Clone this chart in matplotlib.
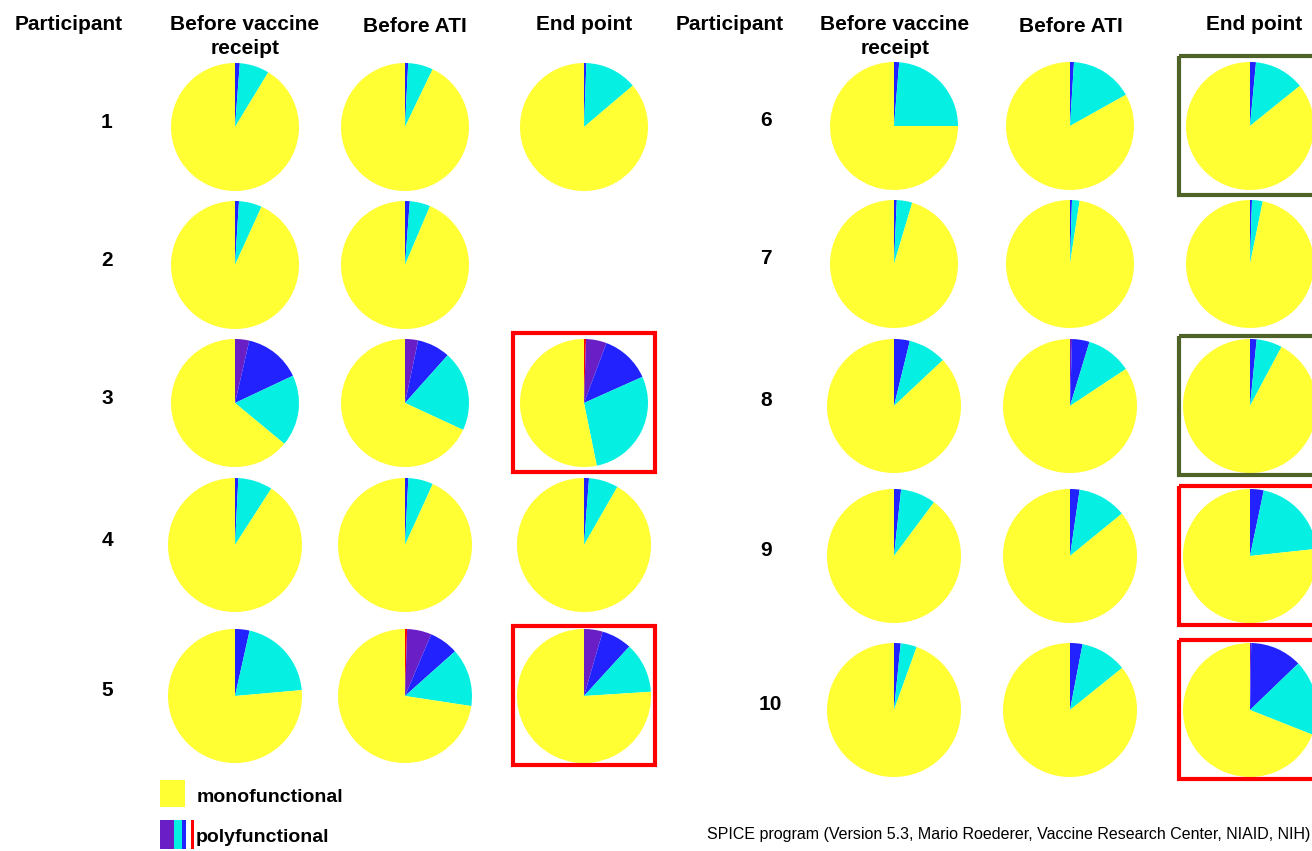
import matplotlib
matplotlib.use('Agg')
import matplotlib.pyplot as plt
from matplotlib.patches import Rectangle

plt.rcParams['font.family'] = ['Liberation Sans', 'DejaVu Sans']

# ---------------------------------------------------------------------------
# Data: % of responding cells per category, columns = the three time points
# (None = no sample)
# ---------------------------------------------------------------------------
participants = ['1', '2', '3', '4', '5', '6', '7', '8', '9', '10']
timepoints = ['Before vaccine\nreceipt', 'Before ATI', 'End point']

red_pct = [[0, 0, 0], [0, 0, None], [0, 0, 0.5], [0, 0, 0], [0, 0.5, 0],
           [0, 0, 0], [0, 0, 0], [0, 0, 0], [0, 0, 0], [0, 0, 0]]
purple_pct = [[0, 0, 0], [0, 0, None], [3.6, 3.3, 5.2], [0, 0, 0], [0, 5.9, 4.5],
              [0, 0, 0], [0, 0, 0], [0, 0.5, 0], [0, 0, 0], [0, 0, 0.3]]
blue_pct = [[1.2, 0.8, 0.6], [1.0, 1.2, None], [14.4, 8.3, 12.6], [0.8, 0.8, 1.2],
            [3.5, 7.0, 7.3], [1.3, 1.0, 1.5], [0.7, 0.5, 0.5], [3.8, 4.2, 1.6],
            [1.7, 2.3, 3.3], [1.6, 3.0, 12.5]]
cyan_pct = [[7.5, 6.3, 13.2], [5.8, 5.2, None], [18.0, 20.3, 28.5], [8.3, 6.0, 7.1],
            [20.1, 14.0, 12.2], [23.7, 15.9, 12.7], [3.9, 1.9, 2.7], [9.2, 11.0, 6.2],
            [8.5, 11.8, 20.0], [3.9, 11.2, 18.2]]

# end-point boxes
box_colors = {'3': 'red', '5': 'red', '6': 'olive', '8': 'olive', '9': 'red', '10': 'red'}

# ---------------------------------------------------------------------------
# Layout (pixels)
# ---------------------------------------------------------------------------
W, H = 1312, 851
COLORS = ['#ff0000', '#6a1fc6', '#2222ff', '#05f0e2', '#ffff33']
BOX_EDGE = {'red': '#ff0000', 'olive': '#4f6228'}

panel_label_x = [107, 766]
panel_col_x = [[235, 405, 584], [894, 1070, 1250]]
header_x = [[69, 245, 415, 584], [730, 895, 1071, 1254]]
row_y = [127, 265, 403, 545, 696, 126, 264, 406, 556, 710]
row_r = [64, 64, 64, 67, 67, 64, 64, 67, 67, 67]

fig = plt.figure(figsize=(W / 100, H / 100), dpi=100)
ax = fig.add_axes([0, 0, 1, 1])

for p, name in enumerate(participants):
    panel = p // 5
    cy = row_y[p]
    for t in range(3):
        if cyan_pct[p][t] is None:
            continue
        poly = [red_pct[p][t], purple_pct[p][t], blue_pct[p][t], cyan_pct[p][t]]
        vals = poly + [100 - sum(poly)]
        cx = panel_col_x[panel][t]
        # y axis is inverted: startangle -90 + ccw in data = clockwise from 12 o'clock
        ax.pie(vals, colors=COLORS, center=(cx, cy), radius=row_r[p],
               startangle=-90, counterclock=True,
               wedgeprops=dict(linewidth=0))
        if t == 2 and name in box_colors:
            ax.add_patch(Rectangle((cx - 71, cy - 70), 142, 139, fill=False,
                                   edgecolor=BOX_EDGE[box_colors[name]],
                                   linewidth=3, zorder=5, clip_on=False))
    ax.text(panel_label_x[panel] + (4 if len(name) > 1 else 0), cy - 5, name,
            ha='center', va='center', fontsize=15, fontweight='bold')

# column headers
for panel in range(2):
    hx = header_x[panel]
    ax.text(hx[0], 25, 'Participant', ha='center', va='center',
            fontsize=15, fontweight='bold')
    ax.text(hx[1], 25, 'Before vaccine', ha='center', va='center',
            fontsize=15, fontweight='bold')
    ax.text(hx[1], 48, 'receipt', ha='center', va='center',
            fontsize=15, fontweight='bold')
    ax.text(hx[2], 27, 'Before ATI', ha='center', va='center',
            fontsize=15, fontweight='bold')
    ax.text(hx[3], 25, 'End point', ha='center', va='center',
            fontsize=15, fontweight='bold')

# legend
ax.add_patch(Rectangle((160, 780), 25, 27, facecolor=COLORS[4], edgecolor='none'))
ax.text(197, 797, 'monofunctional', ha='left', va='center', fontsize=14, fontweight='bold')
ax.add_patch(Rectangle((160, 820), 14, 29, facecolor=COLORS[1], edgecolor='none'))
ax.add_patch(Rectangle((174, 820), 8, 29, facecolor=COLORS[3], edgecolor='none'))
ax.add_patch(Rectangle((182, 820), 4, 29, facecolor=COLORS[2], edgecolor='none'))
ax.add_patch(Rectangle((191, 820), 3, 29, facecolor=COLORS[0], edgecolor='none'))
ax.text(196, 838, 'polyfunctional', ha='left', va='center', fontsize=14, fontweight='bold')

ax.text(707, 835, 'SPICE program (Version 5.3, Mario Roederer, Vaccine Research Center, NIAID, NIH)',
        ha='left', va='center', fontsize=11.5)

ax.set_xlim(0, W)
ax.set_ylim(H, 0)
ax.set_aspect('auto')
ax.axis('off')

fig.savefig('out.png', dpi=100)
